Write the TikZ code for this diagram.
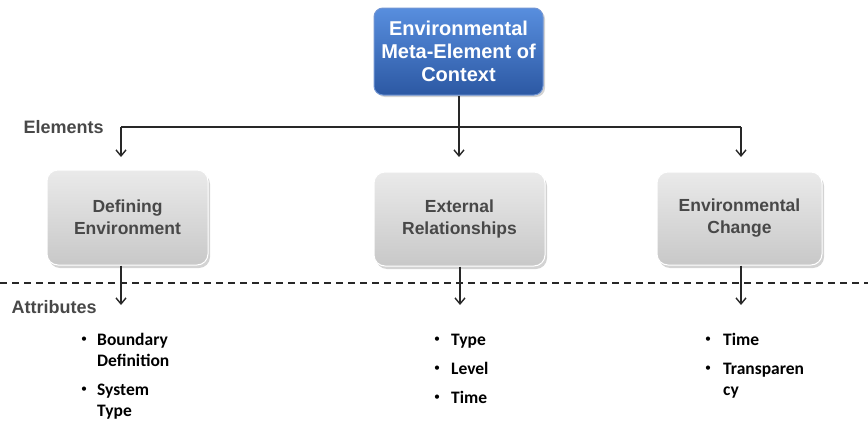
\documentclass[tikz,border=0pt]{standalone}
\usepackage{fontspec}
\setmainfont{Liberation Sans}
\newfontfamily\bulletfont{Carlito}
\usepackage{tikz}
\usetikzlibrary{arrows.meta,positioning,shadows}
\definecolor{metablue}{RGB}{52,104,192}
\definecolor{metatop}{RGB}{88,142,222}
\definecolor{boxtop}{RGB}{234,234,234}
\definecolor{boxbot}{RGB}{200,200,200}
\definecolor{boxtext}{RGB}{72,72,72}
\definecolor{linegray}{RGB}{40,40,40}

\tikzset{
  metabox/.style={rounded corners=9pt,draw=metablue!70!white,line width=1pt,
    top color=metatop,bottom color=metablue!85!black,
    drop shadow={shadow xshift=2pt,shadow yshift=-2pt,opacity=0.35},
    minimum width=169pt,minimum height=87pt,align=center,
    text=white,font=\bfseries\fontsize{20}{23}\selectfont},
  elembox/.style={rounded corners=11pt,draw=white,line width=1pt,
    top color=boxtop,bottom color=boxbot,
    drop shadow={shadow xshift=2pt,shadow yshift=-3pt,opacity=0.35},
    align=center,text=boxtext,font=\bfseries\fontsize{17.5}{22}\selectfont},
  arr/.style={line width=1.4pt,draw=linegray,-{Straight Barb[length=6pt,width=10pt]}},
  conn/.style={line width=1.4pt,draw=linegray},
  sidelabel/.style={anchor=base west,text=boxtext,font=\bfseries\fontsize{18}{22}\selectfont},
  attr/.style={anchor=base west,align=left,inner sep=0pt,
    font=\bulletfont\bfseries\fontsize{17.5}{21}\selectfont},
  dot/.style={inner sep=0pt,font=\bulletfont\fontsize{12}{12}\selectfont}
}

\begin{document}
\begin{tikzpicture}[x=1pt,y=-1pt]
  \useasboundingbox (0,0) rectangle (868,423);

  % top and the three elements
  \node[metabox] (meta) at (458.5,51.5) {Environmental\\Meta-Element of\\Context};
  \node[elembox,minimum width=161pt,minimum height=95pt] (defenv) at (127.5,217.5) {Defining\\Environment};
  \node[elembox,minimum width=171pt,minimum height=94pt] (extrel) at (459.5,219) {External\\Relationships};
  \node[elembox,minimum width=165pt,minimum height=93pt] (envchg) at (739.5,218.5) {Environmental\\Change};

  \node[sidelabel] (elements) at (20,133) {Elements};
  \node[sidelabel] (attributes) at (8,313) {Attributes};

  % branching
  \coordinate (split) at (459,127);
  \coordinate (eL) at (121,127);
  \coordinate (eR) at (741,127);
  \draw[conn] (meta.south -| split) -- (split);
  \draw[conn] (eL) -- (eR);
  \foreach \c in {eL,split,eR}
    \draw[arr] (\c) -- ++(0,30);

  \draw[dashed,line width=1.3pt,dash pattern=on 7pt off 5pt,draw=linegray] (0,283) -- (868,283);

  \coordinate (aL) at (121,305);
  \coordinate (aM) at (460,305);
  \coordinate (aR) at (741,305);
  \draw[arr] (aL |- defenv.south) -- (aL);
  \draw[arr] (aM |- extrel.south) -- (aM);
  \draw[arr] (aR |- envchg.south) -- (aR);

  % attributes (two-line nodes sit on their last line)
  \node[attr] (bdef) at (97,366) {Boundary\\Definition};
  \node[attr] (stype) at (97,416) {System\\Type};
  \node[attr] (rtype) at (451,345) {Type};
  \node[attr] (rlevel) at (451,374) {Level};
  \node[attr] (rtime) at (451,403) {Time};
  \node[attr] (ctime) at (723,345) {Time};
  \node[attr] (ctrans) at (723,395) {Transparen\\cy};
  \foreach \x/\y in {84/340,84/390,437/340,437/369,437/398,708/340,708/369}
    \node[dot] at (\x,\y) {•};
\end{tikzpicture}
\end{document}
